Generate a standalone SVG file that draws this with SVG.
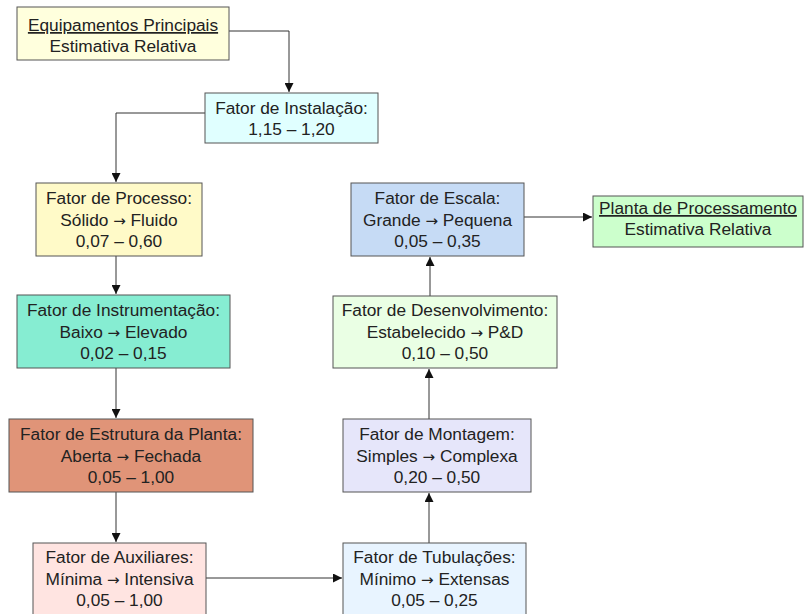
<svg xmlns="http://www.w3.org/2000/svg" width="805" height="614" viewBox="0 0 805 614">
<style>
.box{stroke:#555;stroke-width:1}
text{font-family:"Liberation Sans",Arial,sans-serif;font-size:17.3px;fill:#222;text-anchor:middle}
.u{text-decoration:underline}
.ar{font-family:"DejaVu Sans",sans-serif;font-size:15px}
.c{fill:none;stroke:#333;stroke-width:1}
</style>
<defs>
<marker id="ah" viewBox="0 0 10 10" refX="10" refY="5" markerWidth="9" markerHeight="9" markerUnits="userSpaceOnUse" orient="auto">
<path d="M0,0 L10,5 L0,10 z" fill="#111"/>
</marker>
</defs>
<rect width="805" height="614" fill="#fff"/>
<g id="connectors">
<path class="c" d="M229,31 H289 V92" marker-end="url(#ah)"/>
<path class="c" d="M205,113 H116 V182" marker-end="url(#ah)"/>
<path class="c" d="M116,256 V294" marker-end="url(#ah)"/>
<path class="c" d="M116,368 V418" marker-end="url(#ah)"/>
<path class="c" d="M116,492 V542" marker-end="url(#ah)"/>
<path class="c" d="M206,578 H342" marker-end="url(#ah)"/>
<path class="c" d="M429,543 V493" marker-end="url(#ah)"/>
<path class="c" d="M429,419 V369" marker-end="url(#ah)"/>
<path class="c" d="M430,296 V257" marker-end="url(#ah)"/>
<path class="c" d="M524,217 H592" marker-end="url(#ah)"/>
</g>
<g id="equipamentos">
<rect class="box" x="17" y="7" width="212" height="53" fill="#FFFFDD"/>
<text x="123" y="31" class="u">Equipamentos Principais</text>
<text x="123" y="52">Estimativa Relativa</text>
</g>
<g id="instalacao">
<rect class="box" x="205" y="93" width="173" height="50" fill="#E0FFFF"/>
<text x="291.5" y="114">Fator de Instalação:</text>
<text x="291.5" y="135">1,15 – 1,20</text>
</g>
<g id="processo">
<rect class="box" x="36" y="183" width="166" height="73" fill="#FFFAC8"/>
<text x="119" y="204">Fator de Processo:</text>
<text x="119" y="225.5">Sólido <tspan class="ar">→</tspan> Fluido</text>
<text x="119" y="247">0,07 – 0,60</text>
</g>
<g id="instrumentacao">
<rect class="box" x="17" y="295" width="213" height="73" fill="#86EDD2"/>
<text x="123.5" y="316">Fator de Instrumentação:</text>
<text x="123.5" y="337.5">Baixo <tspan class="ar">→</tspan> Elevado</text>
<text x="123.5" y="359">0,02 – 0,15</text>
</g>
<g id="estrutura">
<rect class="box" x="9" y="419" width="244" height="73" fill="#E09478"/>
<text x="131" y="440">Fator de Estrutura da Planta:</text>
<text x="131" y="461.5">Aberta <tspan class="ar">→</tspan> Fechada</text>
<text x="131" y="483">0,05 – 1,00</text>
</g>
<g id="auxiliares">
<rect class="box" x="33" y="543" width="173" height="73" fill="#FFE4E1"/>
<text x="119.5" y="563">Fator de Auxiliares:</text>
<text x="119.5" y="584.5">Mínima <tspan class="ar">→</tspan> Intensiva</text>
<text x="119.5" y="606">0,05 – 1,00</text>
</g>
<g id="tubulacoes">
<rect class="box" x="343" y="543" width="183" height="73" fill="#E8F4FF"/>
<text x="434.5" y="563">Fator de Tubulações:</text>
<text x="434.5" y="584.5">Mínimo <tspan class="ar">→</tspan> Extensas</text>
<text x="434.5" y="606">0,05 – 0,25</text>
</g>
<g id="montagem">
<rect class="box" x="343" y="419" width="188" height="73" fill="#E6E6FA"/>
<text x="437" y="440">Fator de Montagem:</text>
<text x="437" y="461.5">Simples <tspan class="ar">→</tspan> Complexa</text>
<text x="437" y="483">0,20 – 0,50</text>
</g>
<g id="desenvolvimento">
<rect class="box" x="333" y="296" width="224" height="72" fill="#EAFFE4"/>
<text x="445" y="316">Fator de Desenvolvimento:</text>
<text x="445" y="337.5">Estabelecido <tspan class="ar">→</tspan> P&amp;D</text>
<text x="445" y="359">0,10 – 0,50</text>
</g>
<g id="escala">
<rect class="box" x="351" y="183" width="173" height="73" fill="#C6DBF5"/>
<text x="437.5" y="204">Fator de Escala:</text>
<text x="437.5" y="225.5">Grande <tspan class="ar">→</tspan> Pequena</text>
<text x="437.5" y="247">0,05 – 0,35</text>
</g>
<g id="planta">
<rect class="box" x="593" y="196" width="210" height="51" fill="#CCFFCC"/>
<text x="698" y="214" class="u">Planta de Processamento</text>
<text x="698" y="235">Estimativa Relativa</text>
</g>
</svg>
